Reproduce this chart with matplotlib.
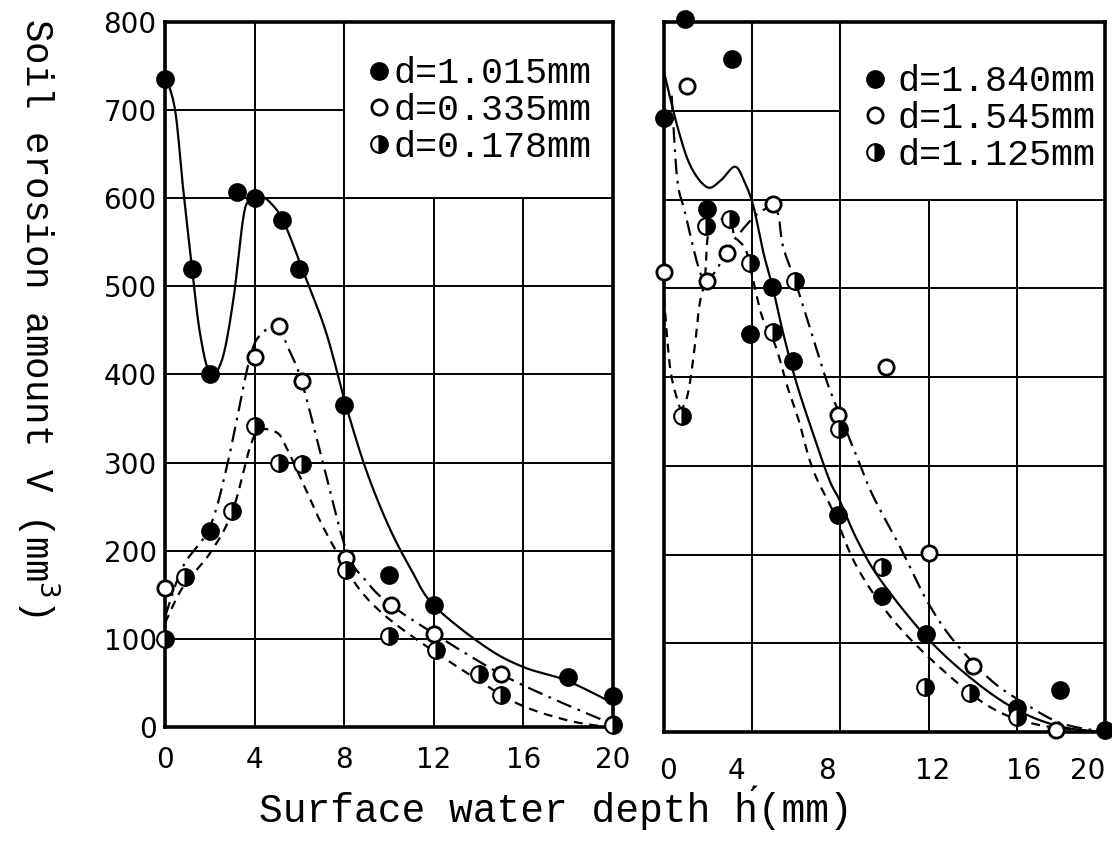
#===============================================================================
import matplotlib.pyplot as plt
import numpy as np
from matplotlib.lines import Line2D
from matplotlib.patches import Rectangle

#===============================================================================
# left panel: measured points
h_1015 = [0, 1.2, 2, 2, 3.2, 4, 5.2, 6, 8, 10, 12, 18, 20]
v_1015 = [735, 520, 400, 222, 607, 600, 575, 520, 365, 172, 138, 57, 35]

h_0335 = [0, 4, 5.1, 6.1, 8.1, 10.1, 12, 15, 20]
v_0335 = [158, 420, 455, 393, 192, 138, 106, 60, 3]

h_0178 = [0, 0.9, 3, 4, 5.1, 6.1, 8.1, 10, 12.1, 14, 15, 20]
v_0178 = [100, 170, 245, 342, 300, 298, 178, 103, 87, 60, 36, 2]

# left panel: hand-drawn fit curves
fit_h_1015 = [0, 0.45, 0.8, 1.2, 1.56, 2, 2.55, 3.05, 3.5, 3.8, 4.25, 4.7,
              5.3, 6.2, 7.2, 8.1, 9, 10, 11, 12, 14.3, 16, 17.9, 20]
fit_v_1015 = [740, 700, 613, 522, 447, 402, 417, 485, 579, 598, 602, 595,
              573, 515, 447, 363, 290, 227, 178, 138, 91, 68, 53, 27]

fit_h_0335 = [0, 0.8, 2, 2.8, 3.8, 4.4, 5, 5.5, 6.1, 7.05, 8.1, 9, 10,
              12, 15, 17.5, 20]
fit_v_0335 = [125, 182, 227, 300, 420, 448, 455, 430, 392, 300, 200, 165, 140,
              106, 60, 30, 3]

fit_h_0178 = [0, 0.8, 2, 3, 3.8, 4.25, 5, 5.4, 6.1, 6.9, 7.7, 8.6, 9.7,
              11.25, 13.5, 15.7, 17.9, 19.7]
fit_v_0178 = [118, 159, 197, 244, 318, 337, 334, 318, 280, 235, 197, 159, 129,
              99, 61, 27, 8, 0]

#===============================================================================
# right panel: measured points
h_1840 = [0, 0.95, 3.1, 1.95, 3.9, 4.9, 5.85, 7.9, 9.9, 11.9, 16, 17.95, 20]
v_1840 = [692, 803, 758, 589, 448, 501, 418, 245, 153, 111, 27, 47, 2]

h_1545 = [0, 1.05, 1.95, 2.85, 4.95, 7.9, 10.05, 12, 14, 17.8]
v_1545 = [518, 728, 508, 540, 595, 357, 411, 202, 74, 2]

h_1125 = [0.8, 1.9, 3.0, 3.9, 4.95, 5.95, 7.95, 9.9, 11.85, 13.9, 16]
v_1125 = [356, 570, 578, 529, 451, 508, 341, 186, 51, 44, 17]

# right panel: hand-drawn fit curves
fit_h_1840 = [0, 0.6, 1.2, 1.95, 2.55, 3.2, 3.6, 4.05, 4.5, 4.95, 5.4, 6,
              6.75, 7.5, 7.95, 8.75, 9.8, 11.9, 14, 16, 18, 20]
fit_v_1840 = [744, 683, 638, 614, 621, 637, 623, 593, 541, 499, 450, 394,
              337, 284, 262, 217, 172, 107, 59, 25, 6, 0]

fit_h_1545 = [0.35, 0.6, 0.95, 1.55, 1.95, 2.85, 3.2, 4.1, 4.7, 4.95, 5.2,
              5.4, 5.95, 6.6, 7.4, 8.0, 8.75, 9.5, 10.7, 11.9, 13.1, 14.8,
              16.3, 18, 20]
fit_v_1545 = [717, 623, 586, 525, 508, 540, 555, 581, 591, 595, 581,
              547, 508, 457, 394, 356, 310, 265, 209, 149, 104, 59,
              33, 10, 0]

fit_h_1125 = [0, 0.27, 0.6, 0.8, 1.1, 1.4, 1.6, 1.85, 2.0, 2.4, 3.0, 3.2,
              3.7, 4.0, 4.45, 4.95, 5.25, 5.6, 6.1, 6.75, 7.7, 8.75, 10.4,
              12.5, 14.8, 17, 20]
fit_v_1125 = [490, 412, 375, 365, 383, 435, 480, 510, 560, 575, 578, 559,
              544, 514, 468, 442, 420, 389, 352, 296, 247, 186, 126,
              73, 28, 8, 0]

x_ticks = [0, 4, 8, 12, 16, 20]
x_tick_labels = ["0", "4", "8", "12", "16", "20"]
y_ticks = [0, 100, 200, 300, 400, 500, 600, 700, 800]

# the right panel's numbers sit a little off its grid lines
right_label_pos = [0.2, 3.3, 7.4, 12.2, 16.3, 19.2]

#===============================================================================
MONO = "Liberation Mono"
SANS = "DejaVu Sans"

SOLID = "-"
DASHDOT = (0, (7, 3, 1.2, 3))
DASHED = (0, (4, 3))

filled = dict(marker="o", ms=12, mfc="black", mec="black", mew=1.5)
hollow = dict(marker="o", ms=11, mfc="white", mec="black", mew=2.0)
half = dict(marker="o", ms=12, mfc="black", mfcalt="white", mec="black",
            mew=1.5, fillstyle="right")


def smooth(xs, ys, n=14):
    # catmull-rom through the read-off curve points
    p = np.column_stack([xs, ys]).astype(float)
    p = np.vstack([p[0], p, p[-1]])
    t = np.linspace(0, 1, n, endpoint=False)[:, None]
    out = []
    for i in range(1, len(p) - 2):
        p0, p1, p2, p3 = p[i - 1], p[i], p[i + 1], p[i + 2]
        seg = 0.5 * (2 * p1 + (-p0 + p2) * t
                     + (2 * p0 - 5 * p1 + 4 * p2 - p3) * t ** 2
                     + (-p0 + 3 * p1 - 3 * p2 + p3) * t ** 3)
        out.append(seg)
    out.append(p[-2][None])
    arr = np.vstack(out)
    return arr[:, 0], arr[:, 1]


def setup_axes(ax, show_y):
    ax.set_xlim(0, 20)
    ax.set_ylim(0, 800)
    ax.set_xticks(x_ticks)
    ax.set_yticks(y_ticks)
    ax.grid(True, which="major", color="black", lw=1.4)
    ax.set_axisbelow(True)
    for s in ax.spines.values():
        s.set_linewidth(2.6)
    ax.tick_params(which="both", length=0, labelsize=20, pad=14)
    ax.tick_params(axis="y", pad=6, labelleft=show_y)
    # legend box covers the upper-right grid cells
    ax.add_patch(Rectangle((8, 600), 12, 200, facecolor="white",
                           edgecolor="black", lw=1.4, zorder=1))


def draw_panel(ax, series, anchor, textpad):
    handles = []
    for hx, vy, fx, fy, ls, style, label in series:
        sx, sy = smooth(fx, fy)
        ax.plot(sx, sy, color="black", lw=1.6, ls=ls, zorder=2, clip_on=False)
        ax.plot(hx, vy, ls="none", zorder=3, clip_on=False, **style)
        handles.append(Line2D([], [], ls="none", **style))
    labels = [s[-1] for s in series]
    ax.legend(handles, labels, loc="upper left", bbox_to_anchor=anchor,
              frameon=False, handlelength=0.6, handletextpad=textpad,
              labelspacing=0.05, borderaxespad=0,
              prop={"family": MONO, "size": 26.5})

#===============================================================================
fig = plt.figure(figsize=(11.12, 8.52), dpi=100)

ax1 = fig.add_axes([0.1484, 0.1467, 0.4029, 0.8275])
ax2 = fig.add_axes([0.5971, 0.1408, 0.3966, 0.8333])

setup_axes(ax1, True)
setup_axes(ax2, False)

ax1.set_xticklabels(x_tick_labels)
ax2.set_xticklabels([])
ax2.set_xticks(right_label_pos, minor=True)
ax2.set_xticklabels(x_tick_labels, minor=True)
ax2.tick_params(axis="x", which="minor", pad=18)

for ax in (ax1, ax2):
    for lab in ax.get_xticklabels(which="both") + ax.get_yticklabels():
        lab.set_family(SANS)

draw_panel(ax1, [
    (h_1015, v_1015, fit_h_1015, fit_v_1015, SOLID, filled, "d=1.015mm"),
    (h_0335, v_0335, fit_h_0335, fit_v_0335, DASHDOT, hollow, "d=0.335mm"),
    (h_0178, v_0178, fit_h_0178, fit_v_0178, DASHED, half, "d=0.178mm"),
], (0.42, 0.972), 0.1)

draw_panel(ax2, [
    (h_1840, v_1840, fit_h_1840, fit_v_1840, SOLID, filled, "d=1.840mm"),
    (h_1545, v_1545, fit_h_1545, fit_v_1545, DASHDOT, hollow, "d=1.545mm"),
    (h_1125, v_1125, fit_h_1125, fit_v_1125, DASHED, half, "d=1.125mm"),
], (0.42, 0.961), 0.3)

fig.text(0.034, 0.627, "Soil erosion amount V (mm$^3$)", rotation=-90,
         ha="center", va="center", family=MONO, size=27)
fig.text(0.50, 0.052, "Surface water depth h\u0301(mm)", ha="center",
         va="center", family=MONO, size=28.5)

fig.savefig("out.png", dpi=100)
